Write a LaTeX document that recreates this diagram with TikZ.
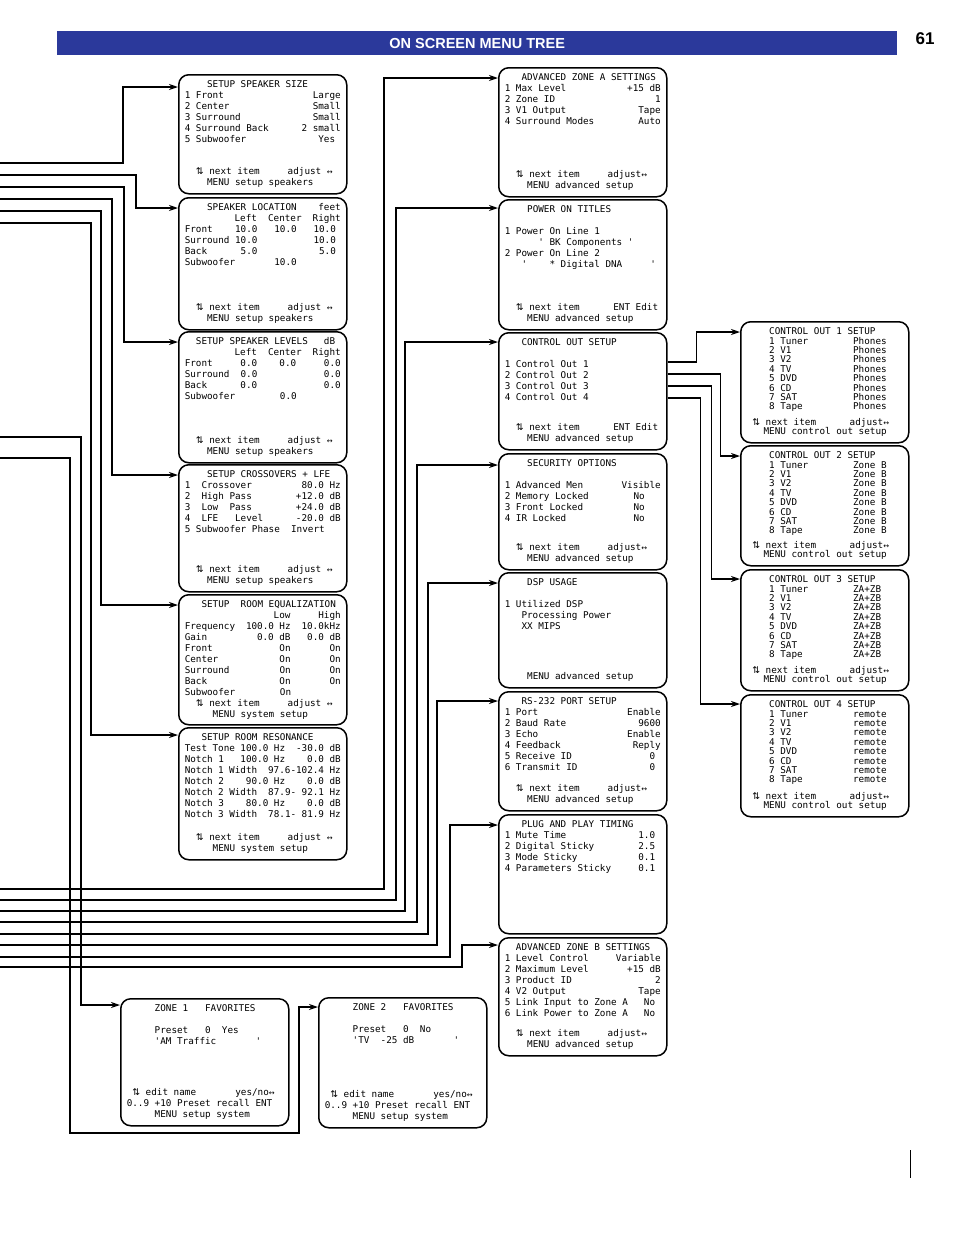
\documentclass[tikz,border=0pt]{standalone}
\usepackage{fontspec}
\setmainfont{Liberation Sans}
\newfontfamily\monof{DejaVu Sans Mono}
\newfontfamily\symf{DejaVu Sans}
\usetikzlibrary{calc, positioning, arrows.meta}
\definecolor{titleblue}{RGB}{43,57,155}
\newcommand\ud{{\symf ⇅}}
\newcommand\lrar{{\symf\fontsize{7}{7}\selectfont ↔}}
\newcommand\tl[1]{\hbox to\linewidth{#1\hfill}}
\newcommand\lr[2]{\hbox to\linewidth{#1\hfill#2}}
\newcommand\mb[3][11]{\parbox[t][#2pt][t]{156pt}{\fontsize{9.3}{#1}\selectfont\lineskiplimit=-20pt\relax #3}}
\tikzset{
  menu/.style={draw, line width=1.5pt, rounded corners=10pt, anchor=north west, inner sep=6pt, font=\monof},
  conn/.style={line width=1.5pt, -{Stealth[length=9pt,width=6pt]}}
}

\begin{document}
\begin{tikzpicture}[x=1pt, y=-1pt]
	\useasboundingbox (0,0) rectangle (954,1235);
	\node (bar) [fill=titleblue, minimum width=840pt, minimum height=24pt, anchor=north west, inner sep=0pt,
	  text=white, font=\bfseries\fontsize{14.5}{14.5}\selectfont] at (57,31) {ON SCREEN MENU TREE};
	\node (page) [font=\bfseries\fontsize{17}{17}\selectfont] at (925,39) {61};
	\draw[line width=1pt] (910,1150) -- (910,1178);
	% setup speakers column
	\node (ss) [menu] at (178,74) {\mb{107}{\tl{~~~~SETUP SPEAKER SIZE}
	  \lr{1 Front}{Large}\lr{2 Center}{Small}\lr{3 Surround}{Small}\lr{4 Surround Back}{2 small}\lr{5 Subwoofer}{Yes~}
	  \vfill\tl{~~\ud~next item~~~~~adjust~\lrar}\tl{~~~~MENU setup speakers}}};
	\node (sl) [menu] at (178,197) {\mb{120}{\lr{~~~~SPEAKER LOCATION}{feet}
	  \tl{~~~~~~~~~Left~~Center~~Right}\tl{Front~~~~10.0~~~10.0~~~10.0}\tl{Surround 10.0~~~~~~~~~~10.0}
	  \tl{Back~~~~~~5.0~~~~~~~~~~~5.0}\tl{Subwoofer~~~~~~~10.0}
	  \vfill\tl{~~\ud~next item~~~~~adjust~\lrar}\tl{~~~~MENU setup speakers}}};
	\node (lv) [menu] at (178,331) {\mb{119}{\lr{~~SETUP SPEAKER LEVELS}{dB~}
	  \tl{~~~~~~~~~Left~~Center~~Right}\tl{Front~~~~~0.0~~~~0.0~~~~~0.0}\tl{Surround~~0.0~~~~~~~~~~~~0.0}
	  \tl{Back~~~~~~0.0~~~~~~~~~~~~0.0}\tl{Subwoofer~~~~~~~~0.0}
	  \vfill\tl{~~\ud~next item~~~~~adjust~\lrar}\tl{~~~~MENU setup speakers}}};
	\node (cr) [menu] at (178,464) {\mb{115}{\tl{~~~~SETUP CROSSOVERS + LFE}
	  \lr{1~~Crossover}{80.0 Hz}\lr{2~~High Pass}{+12.0 dB}\lr{3~~Low~~Pass}{+24.0 dB}\lr{4~~LFE~~~Level}{-20.0 dB}
	  \tl{5 Subwoofer Phase~~Invert}
	  \vfill\tl{~~\ud~next item~~~~~adjust~\lrar}\tl{~~~~MENU setup speakers}}};
	\node (eq) [menu] at (178,594) {\mb{118}{\tl{~~~SETUP~~ROOM EQUALIZATION}
	  \tl{~~~~~~~~~~~~~~~~Low~~~~~High}\tl{Frequency~~100.0 Hz~~10.0kHz}\tl{Gain~~~~~~~~~0.0 dB~~~0.0 dB}
	  \tl{Front~~~~~~~~~~~~On~~~~~~~On}\tl{Center~~~~~~~~~~~On~~~~~~~On}\tl{Surround~~~~~~~~~On~~~~~~~On}
	  \tl{Back~~~~~~~~~~~~~On~~~~~~~On}\tl{Subwoofer~~~~~~~~On}
	  \vfill\tl{~~\ud~next item~~~~~adjust~\lrar}\tl{~~~~~MENU system setup}}};
	\node (rr) [menu] at (178,727) {\mb{120}{\tl{~~~SETUP ROOM RESONANCE}
	  \tl{Test Tone 100.0 Hz~~-30.0 dB}\tl{Notch 1~~~100.0 Hz~~~~0.0 dB}\tl{Notch 1 Width~~97.6-102.4 Hz}
	  \tl{Notch 2~~~~90.0 Hz~~~~0.0 dB}\tl{Notch 2 Width~~87.9- 92.1 Hz}\tl{Notch 3~~~~80.0 Hz~~~~0.0 dB}
	  \tl{Notch 3 Width~~78.1- 81.9 Hz}
	  \vfill\tl{~~\ud~next item~~~~~adjust~\lrar}\tl{~~~~~MENU system setup}}};
	% advanced setup column
	\node (aa) [menu] at (498,67) {\mb{117}{\tl{~~~ADVANCED ZONE A SETTINGS}
	  \lr{1 Max Level}{+15 dB}\lr{2 Zone ID}{1}\lr{3 V1 Output}{Tape}\lr{4 Surround Modes}{Auto}
	  \vfill\tl{~~\ud~next item~~~~~adjust\lrar}\tl{~~~~MENU advanced setup}}};
	\node (po) [menu] at (498,199) {\mb{118}{\tl{~~~~POWER ON TITLES}\tl{}
	  \tl{1 Power On Line 1}\tl{~~~~~~' BK Components '}\tl{2 Power On Line 2}\tl{~~~'~~~~* Digital DNA~~~~~'}
	  \vfill\tl{~~\ud~next item~~~~~~ENT Edit}\tl{~~~~MENU advanced setup}}};
	\node (co) [menu] at (498,332) {\mb{105}{\tl{~~~CONTROL OUT SETUP}\tl{}
	  \tl{1 Control Out 1}\tl{2 Control Out 2}\tl{3 Control Out 3}\tl{4 Control Out 4}
	  \vfill\tl{~~\ud~next item~~~~~~ENT Edit}\tl{~~~~MENU advanced setup}}};
	\node (sec) [menu] at (498,453) {\mb{104}{\tl{~~~~SECURITY OPTIONS}\tl{}
	  \lr{1 Advanced Men}{Visible}\tl{2 Memory Locked~~~~~~~~No}\tl{3 Front Locked~~~~~~~~~No}\tl{4 IR Locked~~~~~~~~~~~~No}
	  \vfill\tl{~~\ud~next item~~~~~adjust\lrar}\tl{~~~~MENU advanced setup}}};
	\node (dsp) [menu] at (498,572) {\mb{103}{\tl{~~~~DSP USAGE}\tl{}
	  \tl{1 Utilized DSP}\tl{~~~Processing Power}\tl{~~~XX MIPS}
	  \vfill\tl{~~~~MENU advanced setup}}};
	\node (rs) [menu] at (498,691) {\mb{107}{\tl{~~~RS-232 PORT SETUP}
	  \lr{1 Port}{Enable}\lr{2 Baud Rate}{9600}\lr{3 Echo}{Enable}\lr{4 Feedback}{Reply}\lr{5 Receive ID}{0~}\lr{6 Transmit ID}{0~}
	  \vfill\tl{~~\ud~next item~~~~~adjust\lrar}\tl{~~~~MENU advanced setup}}};
	\node (pp) [menu] at (498,814) {\mb{107}{\tl{~~~PLUG AND PLAY TIMING}
	  \lr{1 Mute Time}{1.0~}\lr{2 Digital Sticky}{2.5~}\lr{3 Mode Sticky}{0.1~}\lr{4 Parameters Sticky}{0.1~}}};
	\node (ab) [menu] at (498,937) {\mb{106}{\tl{~~ADVANCED ZONE B SETTINGS}
	  \lr{1 Level Control}{Variable}\lr{2 Maximum Level}{+15 dB}\lr{3 Product ID}{2}\lr{4 V2 Output}{Tape}
	  \lr{5 Link Input to Zone A}{No~}\lr{6 Link Power to Zone A}{No~}
	  \vfill\tl{~~\ud~next item~~~~~adjust\lrar}\tl{~~~~MENU advanced setup}}};
	% control out column
	\node (c1) [menu] at (740,321) {\mb[9.4]{109}{\tl{~~~~CONTROL OUT 1 SETUP}
	  \tl{~~~~1 Tuner~~~~~~~~Phones}\tl{~~~~2 V1~~~~~~~~~~~Phones}\tl{~~~~3 V2~~~~~~~~~~~Phones}\tl{~~~~4 TV~~~~~~~~~~~Phones}
	  \tl{~~~~5 DVD~~~~~~~~~~Phones}\tl{~~~~6 CD~~~~~~~~~~~Phones}\tl{~~~~7 SAT~~~~~~~~~~Phones}\tl{~~~~8 Tape~~~~~~~~~Phones}
	  \vfill\tl{~\ud~next item~~~~~~adjust\lrar}\tl{~~~MENU control out setup}}};
	\node (c2) [menu] at (740,445) {\mb[9.4]{108}{\tl{~~~~CONTROL OUT 2 SETUP}
	  \tl{~~~~1 Tuner~~~~~~~~Zone B}\tl{~~~~2 V1~~~~~~~~~~~Zone B}\tl{~~~~3 V2~~~~~~~~~~~Zone B}\tl{~~~~4 TV~~~~~~~~~~~Zone B}
	  \tl{~~~~5 DVD~~~~~~~~~~Zone B}\tl{~~~~6 CD~~~~~~~~~~~Zone B}\tl{~~~~7 SAT~~~~~~~~~~Zone B}\tl{~~~~8 Tape~~~~~~~~~Zone B}
	  \vfill\tl{~\ud~next item~~~~~~adjust\lrar}\tl{~~~MENU control out setup}}};
	\node (c3) [menu] at (740,569) {\mb[9.4]{109}{\tl{~~~~CONTROL OUT 3 SETUP}
	  \tl{~~~~1 Tuner~~~~~~~~ZA+ZB}\tl{~~~~2 V1~~~~~~~~~~~ZA+ZB}\tl{~~~~3 V2~~~~~~~~~~~ZA+ZB}\tl{~~~~4 TV~~~~~~~~~~~ZA+ZB}
	  \tl{~~~~5 DVD~~~~~~~~~~ZA+ZB}\tl{~~~~6 CD~~~~~~~~~~~ZA+ZB}\tl{~~~~7 SAT~~~~~~~~~~ZA+ZB}\tl{~~~~8 Tape~~~~~~~~~ZA+ZB}
	  \vfill\tl{~\ud~next item~~~~~~adjust\lrar}\tl{~~~MENU control out setup}}};
	\node (c4) [menu] at (740,694) {\mb[9.4]{110}{\tl{~~~~CONTROL OUT 4 SETUP}
	  \tl{~~~~1 Tuner~~~~~~~~remote}\tl{~~~~2 V1~~~~~~~~~~~remote}\tl{~~~~3 V2~~~~~~~~~~~remote}\tl{~~~~4 TV~~~~~~~~~~~remote}
	  \tl{~~~~5 DVD~~~~~~~~~~remote}\tl{~~~~6 CD~~~~~~~~~~~remote}\tl{~~~~7 SAT~~~~~~~~~~remote}\tl{~~~~8 Tape~~~~~~~~~remote}
	  \vfill\tl{~\ud~next item~~~~~~adjust\lrar}\tl{~~~MENU control out setup}}};
	% favorites
	\node (z1) [menu] at (120,998) {\mb{115}{\tl{~~~~~ZONE 1~~~FAVORITES}\tl{}
	  \tl{~~~~~Preset~~~0~~Yes}\tl{~~~~~'AM Traffic~~~~~~~'}
	  \vfill\tl{~\ud~edit name~~~~~~~yes/no\lrar}\tl{0..9 +10 Preset recall ENT}\tl{~~~~~MENU setup system}}};
	\node (z2) [menu] at (318,997) {\mb{118}{\tl{~~~~~ZONE 2~~~FAVORITES}\tl{}
	  \tl{~~~~~Preset~~~0~~No}\tl{~~~~~'TV~~-25 dB~~~~~~~'}
	  \vfill\tl{~\ud~edit name~~~~~~~yes/no\lrar}\tl{0..9 +10 Preset recall ENT}\tl{~~~~~MENU setup system}}};
	% loose ends on the left
	\foreach \n/\y in {1/163, 2/175, 3/187, 4/199, 5/211, 6/223, 7/437, 8/458,
	                   9/889, 10/900, 11/911, 12/922, 13/934, 14/945, 15/957, 16/967}
	  \coordinate (in\n) at (0,\y);
	\draw[conn] (in1) -- ++(123,0) |- (ss.west |- 0,87);
	\draw[conn] (in2) -- ++(136,0) |- (sl.west |- 0,208);
	\draw[conn] (in3) -- ++(124,0) |- (lv.west |- 0,342);
	\draw[conn] (in4) -- ++(112,0) |- (cr.west |- 0,475);
	\draw[conn] (in5) -- ++(101,0) |- (eq.west |- 0,605);
	\draw[conn] (in6) -- ++(91,0) |- (rr.west |- 0,735);
	\draw[conn] (in7) -- ++(81,0) |- (z1.west |- 0,1005);
	\draw[conn] (in8) -- ++(70,0) -- ++(0,675) -- ++(229,0) |- (z2.west |- 0,1007);
	\draw[conn] (in9) -- ++(384,0) |- (aa.west |- 0,78);
	\draw[conn] (in10) -- ++(396,0) |- (po.west |- 0,208);
	\draw[conn] (in11) -- ++(405,0) |- (co.west |- 0,342);
	\draw[conn] (in12) -- ++(417,0) |- (sec.west |- 0,465);
	\draw[conn] (in13) -- ++(428,0) |- (dsp.west |- 0,583);
	\draw[conn] (in14) -- ++(437,0) |- (rs.west |- 0,701);
	\draw[conn] (in15) -- ++(450,0) |- (pp.west |- 0,825);
	\draw[conn] (in16) -- ++(462,0) |- (ab.west |- 0,945);
	% control out branches
	\draw[conn] (co.east |- 0,362) -- ++(29,0) |- (c1.west |- 0,332);
	\draw[conn] (co.east |- 0,374) -- ++(53,0) |- (c2.west |- 0,456);
	\draw[conn] (co.east |- 0,386) -- ++(44,0) |- (c3.west |- 0,579);
	\draw[conn] (co.east |- 0,398) -- ++(33,0) |- (c4.west |- 0,704);
\end{tikzpicture}
\end{document}
